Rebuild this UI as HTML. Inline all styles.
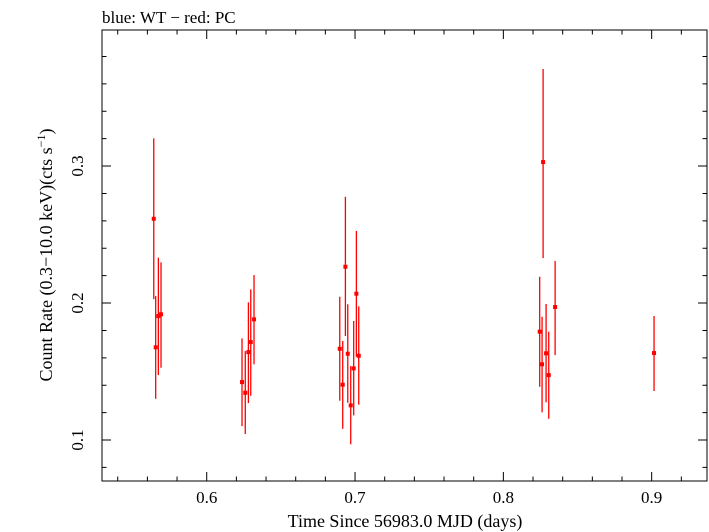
<!DOCTYPE html>
<html><head><meta charset="utf-8"><style>
body{margin:0;background:#fff;}
svg{display:block;font-family:"Liberation Serif",serif;}
</style></head><body>
<svg id="chart" width="709" height="532" viewBox="0 0 709 532">
<rect x="0" y="0" width="709" height="532" fill="#fff"/>
<text x="102" y="23" font-size="17">blue: WT − red: PC</text>
<g id="axes"></g>
<g id="marks"></g>
<text x="405" y="527" font-size="18" text-anchor="middle">Time Since 56983.0 MJD (days)</text>
<text transform="translate(52,255) rotate(-90)" font-size="18" text-anchor="middle">Count Rate (0.3−10.0 keV)(cts s<tspan dy="-7" font-size="12">−1</tspan><tspan dy="7">)</tspan></text>
</svg>
<script>
const times=[0.5643,0.5656,0.5674,0.5692,0.6238,0.6260,0.6281,0.6297,0.6319,0.6897,0.6917,0.6935,0.6951,0.6971,0.6991,0.7009,0.7025,0.8245,0.8261,0.8268,0.8288,0.8306,0.8349,0.9016];
const rates=[0.2615,0.1677,0.1905,0.1918,0.1423,0.1345,0.1642,0.1715,0.1881,0.1666,0.1404,0.2265,0.1630,0.1253,0.1523,0.2068,0.1615,0.1791,0.1553,0.3029,0.1633,0.1474,0.1971,0.1635];
const upper=[0.3202,0.2051,0.2331,0.2297,0.1742,0.1650,0.2005,0.2100,0.2204,0.2046,0.1723,0.2776,0.1991,0.1540,0.1869,0.2526,0.1976,0.2192,0.1900,0.3708,0.1993,0.1791,0.2307,0.1905];
const lower=[0.2029,0.1301,0.1474,0.1528,0.1102,0.1044,0.1270,0.1323,0.1553,0.1287,0.1082,0.1759,0.1272,0.0969,0.1180,0.1608,0.1258,0.1389,0.1202,0.2328,0.1275,0.1155,0.1620,0.1358];
const xTicks=[0.6,0.7,0.8,0.9];
const yTicks=[0.1,0.2,0.3];
const X0=102,X1=707,Y0=30,Y1=481,XMIN=0.5294,XMAX=0.9373,YMIN=0.0701,YMAX=0.3993;
const NS='http://www.w3.org/2000/svg';
function sx(v){return X0+(v-XMIN)/(XMAX-XMIN)*(X1-X0);}
function sy(v){return Y1-(v-YMIN)/(YMAX-YMIN)*(Y1-Y0);}
function mk(tag,attrs,parent){const e=document.createElementNS(NS,tag);for(const k in attrs)e.setAttribute(k,attrs[k]);parent.appendChild(e);return e;}
const axes=document.getElementById('axes');
const frame=mk('rect',{x:X0,y:Y0,width:X1-X0,height:Y1-Y0,fill:'none',stroke:'#000','stroke-width':1},axes);


for(let i=0;i<=50;i++){const v=Math.round((0.5+i*0.02)*1000)/1000;if(v<XMIN||v>XMAX)continue;
 const major=Math.abs(v*10-Math.round(v*10))<1e-6;const L=major?9:4.5;const x=sx(v);
 const t=mk('path',{d:`M${x},${Y1}v${-L}M${x},${Y0}v${L}`,stroke:'#000','stroke-width':1},axes);
 
 }
for(let i=0;i<=30;i++){const v=Math.round((0.06+i*0.02)*1000)/1000;if(v<YMIN||v>YMAX)continue;
 const major=Math.abs(v*10-Math.round(v*10))<1e-6;const L=major?9:4.5;const y=sy(v);
 const t=mk('path',{d:`M${X0},${y}h${L}M${X1},${y}h${-L}`,stroke:'#000','stroke-width':1},axes);
 
 }
xTicks.forEach(v=>{const t=mk('text',{x:sx(v),y:503,'font-size':17,'text-anchor':'middle'},axes);t.textContent=v.toFixed(1);
 
 });
yTicks.forEach(v=>{const t=mk('text',{transform:`translate(83,${sy(v)}) rotate(-90)`,'font-size':17,'text-anchor':'middle'},axes);t.textContent=v.toFixed(1);
 
 });
const marks=document.getElementById('marks');
times.forEach((t,i)=>{const x=sx(t);
 const e=mk('line',{x1:x,x2:x,y1:sy(upper[i]),y2:sy(lower[i]),stroke:'#f00','stroke-width':1.3},marks);
 
 
 const p=mk('rect',{x:x-2,y:sy(rates[i])-2,width:4,height:4,fill:'#f00'},marks);
 
 });
</script>
</body></html>
